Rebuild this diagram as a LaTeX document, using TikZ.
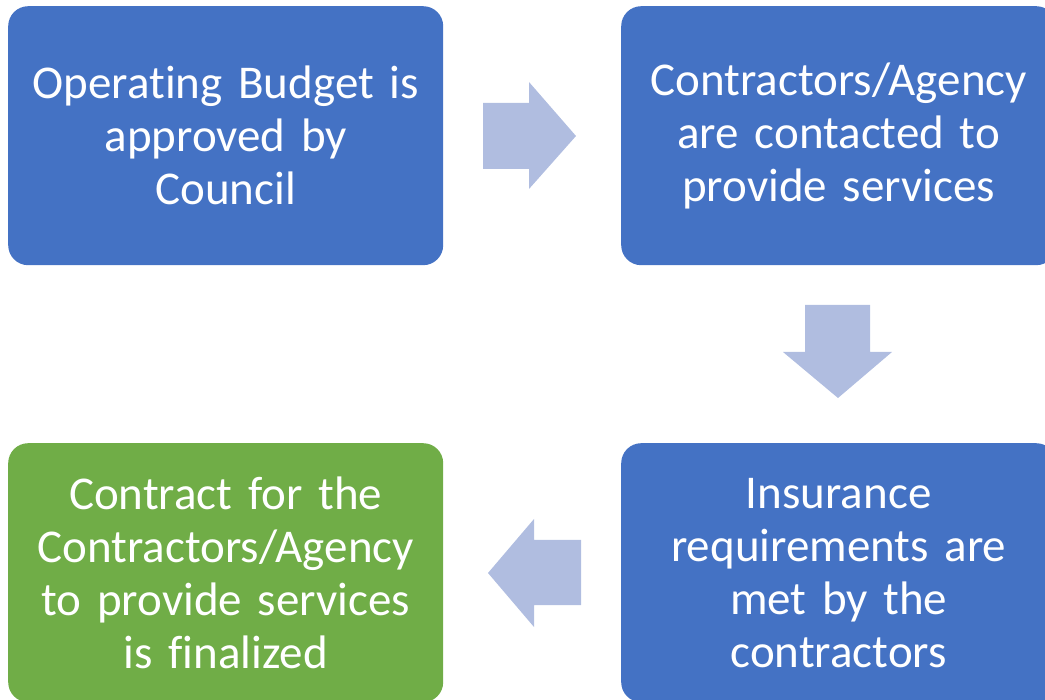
\documentclass[tikz,border=0pt]{standalone}
\usepackage{fontspec}
\setmainfont{Carlito}[Ligatures=NoCommon]
\definecolor{boxblue}{HTML}{4472C4}
\definecolor{boxgreen}{HTML}{70AD47}
\definecolor{arrowfill}{RGB}{176,189,224}
\begin{document}
\begin{tikzpicture}[x=1pt,y=-1pt,
  stepbox/.style={fill=boxblue, rounded corners=20pt, minimum width=435pt, minimum height=259pt,
    text width=425pt, align=center, text=white, font=\fontsize{47}{53}\selectfont,
    inner sep=0pt, anchor=north west},
  flow/.style={fill=arrowfill}]
\clip (0,0) rectangle (1045,700);
\node[stepbox] (a) at (8,6) {Operating Budget is\\approved by\\Council};
\node[stepbox] (b) at (621,6) {Contractors/Agency\\are contacted to\\provide services};
\node[stepbox] (c) at (621,443) {Insurance\\requirements are\\met by the\\contractors};
\node[stepbox, fill=boxgreen] (d) at (8,443) {Contract for the\\Contractors/Agency\\to provide services\\is finalized};
% arrows
\fill[flow] (483,103) -- (529,103) -- (529,82) -- (576,136) -- (529,189) -- (529,169) -- (483,169) -- cycle;
\fill[flow] (805,305) -- (870,305) -- (870,352) -- (892,352) -- (838,398) -- (783,352) -- (805,352) -- cycle;
\fill[flow] (581,540) -- (534,540) -- (534,519) -- (488,573) -- (534,627) -- (534,605) -- (581,605) -- cycle;
\end{tikzpicture}
\end{document}
